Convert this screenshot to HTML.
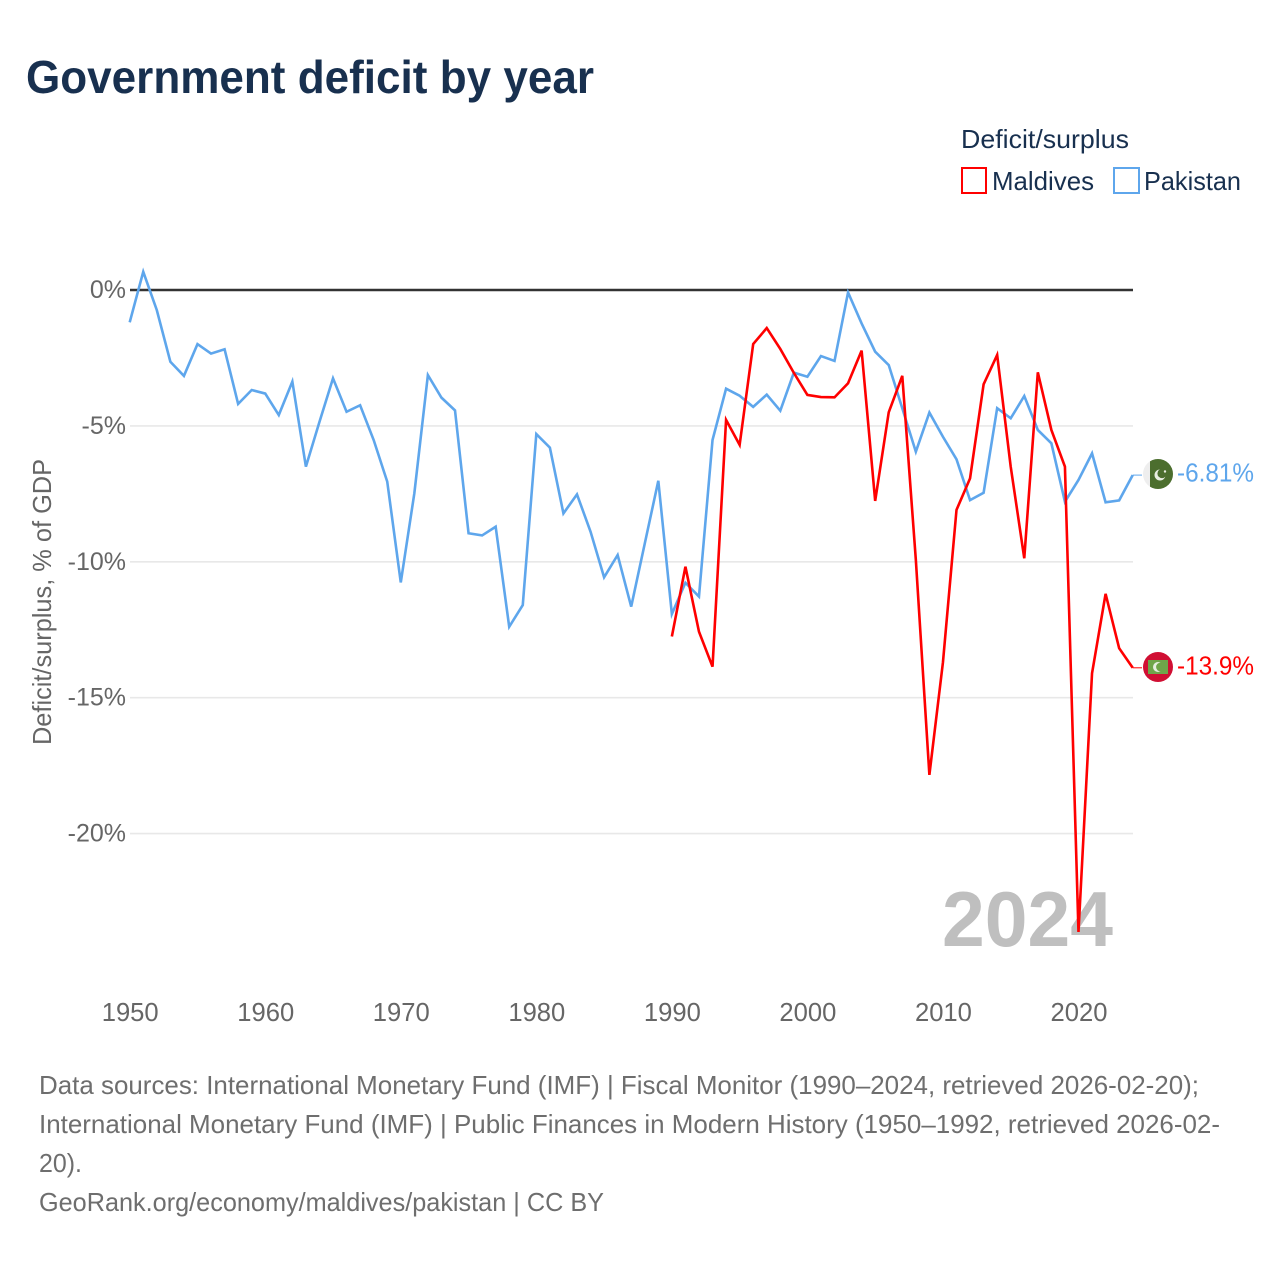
<!DOCTYPE html>
<html lang="en">
<head>
<meta charset="utf-8">
<title>Government deficit by year</title>
<style>
html,body{margin:0;padding:0;background:#fff;}
svg{display:block;}
text{font-family:"Liberation Sans",sans-serif;}
</style>
</head>
<body>
<svg id="chart" xmlns="http://www.w3.org/2000/svg" width="1280" height="1280" viewBox="0 0 1280 1280">
  <rect x="0" y="0" width="1280" height="1280" fill="#fff"/>
  <text x="26" y="93" font-size="46" font-weight="700" fill="#18304f" textLength="568" lengthAdjust="spacingAndGlyphs">Government deficit by year</text>

  <g>
    <text x="961" y="148" font-size="26" fill="#18304f" textLength="168" lengthAdjust="spacingAndGlyphs">Deficit/surplus</text>
    <g>
      <rect x="962" y="168" width="24" height="25" fill="#fff" stroke="#ff0000" stroke-width="2"/>
      <text x="992" y="190" font-size="26" fill="#18304f" textLength="102" lengthAdjust="spacingAndGlyphs">Maldives</text>
    </g>
    <g>
      <rect x="1114" y="168" width="25" height="25" fill="#fff" stroke="#5ea6ec" stroke-width="2"/>
      <text x="1144" y="190" font-size="26" fill="#18304f" textLength="97" lengthAdjust="spacingAndGlyphs">Pakistan</text>
    </g>
  </g>

  <g id="grid"></g>
  <g id="y-ticks"></g>
  <g id="x-ticks"></g>
  <text transform="translate(51,745) rotate(-90)" x="0" y="0" font-size="26" fill="#666" textLength="286" lengthAdjust="spacingAndGlyphs">Deficit/surplus, % of GDP</text>

  <text x="942" y="946" font-size="78" font-weight="700" fill="#bfbfbf" textLength="171" lengthAdjust="spacingAndGlyphs">2024</text>

  <g id="series"></g>

  <g>
    <clipPath id="clip-pk"><circle cx="1158" cy="474" r="15"/></clipPath>
    <g clip-path="url(#clip-pk)">
      <rect x="1143" y="459" width="30" height="30" fill="#eeeeee"/>
      <rect x="1150" y="459" width="23" height="30" fill="#4c6e2e"/>
      <circle cx="1160" cy="475" r="5.5" fill="#e9eee2"/>
      <circle cx="1162" cy="473.5" r="4.6" fill="#4c6e2e"/>
      <circle cx="1165" cy="471.5" r="1.2" fill="#e9eee2"/>
    </g>
  </g>
  <g>
    <circle cx="1158" cy="667" r="15" fill="#d00f33"/>
    <rect x="1148" y="660" width="20" height="14" fill="#6fa54a"/>
    <circle cx="1158" cy="667" r="5" fill="#e6eee0"/>
    <circle cx="1160.5" cy="667" r="4.4" fill="#6fa54a"/>
  </g>
  <g id="end-labels"></g>

  <g>
    <text x="39" y="1094" font-size="26" fill="#6e6e6e" textLength="1160" lengthAdjust="spacingAndGlyphs">Data sources: International Monetary Fund (IMF) | Fiscal Monitor (1990–2024, retrieved 2026-02-20);</text>
    <text x="39" y="1133" font-size="26" fill="#6e6e6e" textLength="1181" lengthAdjust="spacingAndGlyphs">International Monetary Fund (IMF) | Public Finances in Modern History (1950–1992, retrieved 2026-02-</text>
    <text x="39" y="1172" font-size="26" fill="#6e6e6e" textLength="43" lengthAdjust="spacingAndGlyphs">20).</text>
    <text x="39" y="1211" font-size="26" fill="#6e6e6e" textLength="565" lengthAdjust="spacingAndGlyphs">GeoRank.org/economy/maldives/pakistan | CC BY</text>
  </g>
</svg>
<script>
const pakistanStartYear = 1950;
const pakistanValues = [
  -1.19, 0.67, -0.74, -2.64, -3.16, -1.99, -2.34, -2.18, -4.19, -3.68,
  -3.81, -4.6, -3.37, -6.5, -4.85, -3.25, -4.48, -4.24, -5.52, -7.05,
  -10.76, -7.48, -3.13, -3.96, -4.43, -8.95, -9.03, -8.71, -12.39, -11.59,
  -5.3, -5.8, -8.22, -7.52, -8.89, -10.57, -9.75, -11.65, -9.33, -7.02,
  -11.92, -10.77, -11.28, -5.52, -3.63, -3.89, -4.3, -3.85, -4.44, -3.04,
  -3.19, -2.43, -2.61, -0.09, -1.23, -2.27, -2.76, -4.35, -5.95, -4.51,
  -5.4, -6.23, -7.73, -7.46, -4.35, -4.72, -3.9, -5.15, -5.64, -7.79,
  -6.99, -6.01, -7.81, -7.74, -6.81
];
const maldivesStartYear = 1990;
const maldivesValues = [
  -12.75, -10.18, -12.57, -13.86, -4.78, -5.7, -1.99, -1.4, -2.17, -3.05,
  -3.86, -3.94, -3.95, -3.43, -2.23, -7.76, -4.5, -3.16, -9.93, -17.84,
  -13.7, -8.09, -6.93, -3.47, -2.39, -6.5, -9.87, -3.03, -5.15, -6.5,
  -23.62, -14.1, -11.18, -13.18, -13.9
];
const yTickValues = [0, -5, -10, -15, -20];
const yTickLabels = ["0%", "-5%", "-10%", "-15%", "-20%"];
const xTickYears = [1950, 1960, 1970, 1980, 1990, 2000, 2010, 2020];
const pakistanEndLabel = "-6.81%";
const maldivesEndLabel = "-13.9%";

const SVG_NS = "http://www.w3.org/2000/svg";
const xScale = function (year) { return 129.7 + (year - 1950) * (1003 / 74); };
const yScale = function (v) { return 290 - v * 27.18; };
const make = function (tag, parent, attrs) {
  const el = document.createElementNS(SVG_NS, tag);
  for (const k in attrs) { el.setAttribute(k, attrs[k]); }
  parent.appendChild(el);
  return el;
};

const gridGroup = document.getElementById("grid");
const yTickGroup = document.getElementById("y-ticks");
yTickValues.forEach(function (v, i) {
  const line = make("line", gridGroup, {
    x1: 130, x2: 1133, y1: yScale(v), y2: yScale(v),
    stroke: v === 0 ? "#333333" : "#e8e8e8",
    "stroke-width": v === 0 ? 2.6 : 1.6
  });
  
  
  const label = make("text", yTickGroup, {
    x: 126, y: yScale(v) + 8, "font-size": 25, fill: "#666", "text-anchor": "end"
  });
  
  
  label.textContent = yTickLabels[i];
});

const xTickGroup = document.getElementById("x-ticks");
xTickYears.forEach(function (year) {
  const label = make("text", xTickGroup, {
    x: xScale(year) + 0.5, y: 1021, "font-size": 25.6, fill: "#666", "text-anchor": "middle"
  });
  
  
  label.textContent = String(year);
});

const seriesGroup = document.getElementById("series");
const pathFor = function (values, startYear) {
  return values.map(function (v, i) {
    return (i === 0 ? "M" : "L") + xScale(startYear + i).toFixed(2) + " " + yScale(v).toFixed(2);
  }).join(" ");
};
const pakistanLine = make("path", seriesGroup, {
  d: pathFor(pakistanValues, pakistanStartYear),
  fill: "none", stroke: "#5ea6ec", "stroke-width": 2.6, "stroke-linejoin": "miter"
});


const maldivesLine = make("path", seriesGroup, {
  d: pathFor(maldivesValues, maldivesStartYear),
  fill: "none", stroke: "#ff0000", "stroke-width": 2.6, "stroke-linejoin": "miter"
});



const lastPakistan = pakistanValues[pakistanValues.length - 1];
const lastMaldives = maldivesValues[maldivesValues.length - 1];
const pakConnector = make("line", seriesGroup, {
  x1: xScale(2024), x2: 1142, y1: yScale(lastPakistan), y2: yScale(lastPakistan),
  stroke: "#5ea6ec", "stroke-width": 1
});


const malConnector = make("line", seriesGroup, {
  x1: xScale(2024), x2: 1142, y1: yScale(lastMaldives), y2: yScale(lastMaldives),
  stroke: "#ff0000", "stroke-width": 1
});



const endGroup = document.getElementById("end-labels");
const pakEnd = make("text", endGroup, {
  x: 1177, y: yScale(lastPakistan) + 6.5, "font-size": 26, fill: "#5ea6ec",
  textLength: 77, lengthAdjust: "spacingAndGlyphs"
});


pakEnd.textContent = pakistanEndLabel;
const malEnd = make("text", endGroup, {
  x: 1177, y: yScale(lastMaldives) + 6.5, "font-size": 26, fill: "#ff0000",
  textLength: 77, lengthAdjust: "spacingAndGlyphs"
});


malEnd.textContent = maldivesEndLabel;
</script>
</body>
</html>
